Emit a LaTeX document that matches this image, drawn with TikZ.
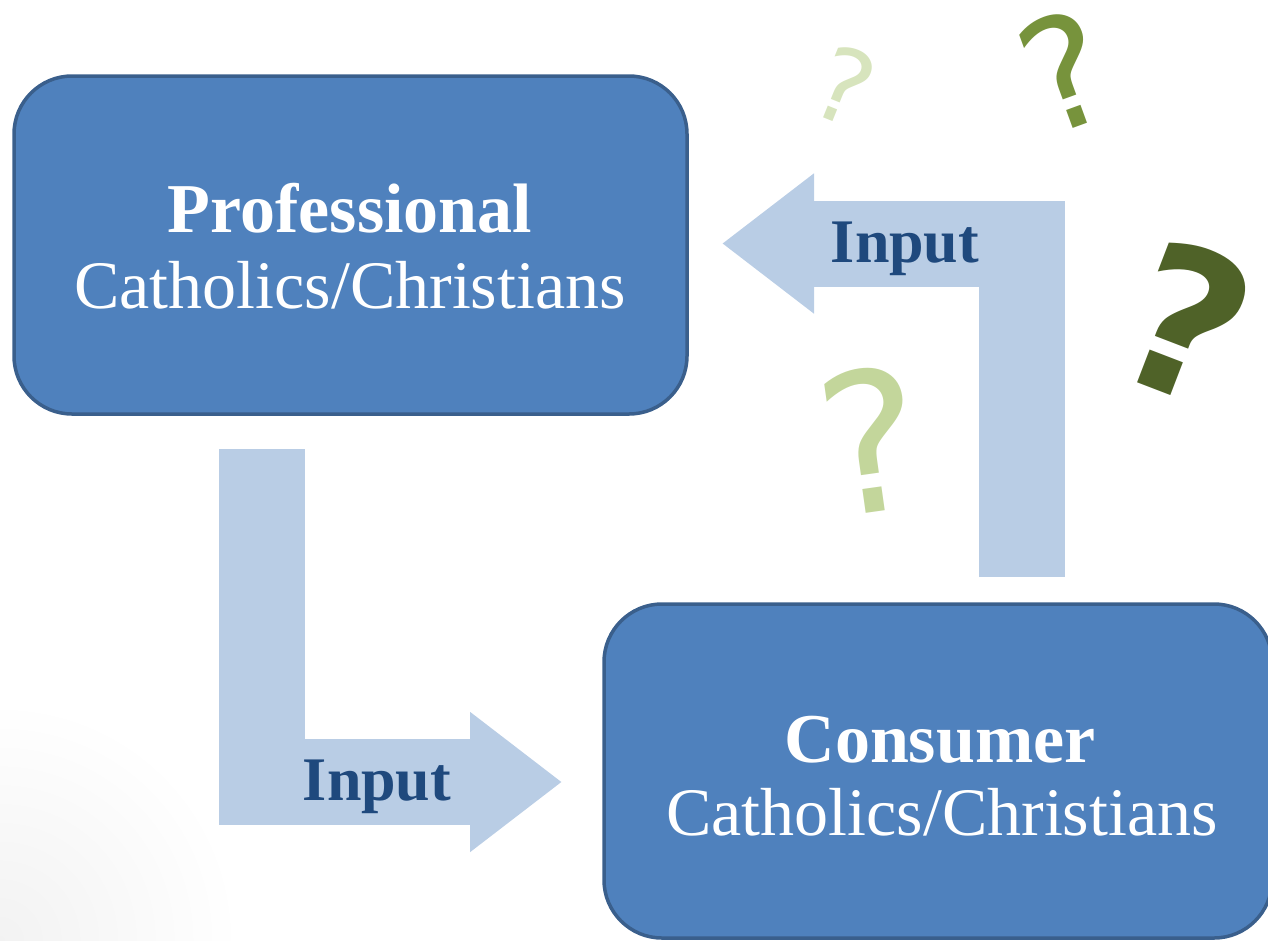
\documentclass[tikz,border=0pt]{standalone}
\usepackage{fontspec}
\setmainfont{Liberation Serif}
\newfontfamily\qfont{DejaVu Sans}
\usetikzlibrary{arrows.meta}
\definecolor{boxfill}{HTML}{4F81BD}
\definecolor{boxline}{HTML}{3A5F8C}
\definecolor{arrowfill}{HTML}{B9CDE5}
\definecolor{inputtext}{HTML}{1F497D}
\definecolor{qa}{HTML}{D7E4BD}
\definecolor{qb}{HTML}{77933C}
\definecolor{qc}{HTML}{4F6228}
\definecolor{qd}{HTML}{C3D69B}
\tikzset{
  roundbox/.style={draw=boxline, line width=3.5pt, fill=boxfill, rounded corners=58pt, inner sep=0pt},
  headtext/.style={text=white, inner sep=0pt, anchor=base, font=\fontsize{70}{76}\selectfont\bfseries},
  subtext/.style={text=white, inner sep=0pt, anchor=base, font=\fontsize{68}{76}\selectfont},
  bigarrow/.style={draw=arrowfill, line width=86pt, -{Triangle[length=92pt,width=134pt]}},
  inputlabel/.style={text=inputtext, inner sep=0pt, anchor=base, font=\fontsize{62}{70}\selectfont\bfseries},
  qmark/.style={inner sep=0pt, anchor=center}
}
\begin{document}
\begin{tikzpicture}[x=1pt,y=-1pt]
\useasboundingbox (0,0) rectangle (1268,940);
% faint corner shading
\begin{scope}
\clip (0,0) rectangle (1268,940);
\shade[inner color=black!5, outer color=white] (0,940) circle (240pt);
\end{scope}
% boxes
\node[roundbox, minimum width=673pt, minimum height=338pt] (pro) at (350.5,245) {};
\node[roundbox, minimum width=668pt, minimum height=334pt] (con) at (938,771) {};
% box texts
\node[headtext] (proh) at (350,232) {Professional};
\node[subtext] (pros) at (350,308) {Catholics/Christians};
\node[headtext] (conh) at (940,762) {Consumer};
\node[subtext] (cons) at (942,835) {Catholics/Christians};
% arrows
\coordinate (a1s) at (262,449);
\coordinate (a1e) at (562,782);
\coordinate (a2s) at (1021.5,577);
\coordinate (a2e) at (722,243.5);
\draw[bigarrow] (a1s) |- (a1e);
\draw[bigarrow] (a2s) |- (a2e);
\node[inputlabel] (in1) at (377,800) {Input};
\node[inputlabel] (in2) at (905,262) {Input};
% question marks
\node[qmark, text=qa, rotate=-22, font=\fontsize{102}{102}\qfont] (q1) at (845,86) {?};
\node[qmark, text=qb, rotate=20, font=\fontsize{154}{154}\qfont] (q2) at (1064,71) {?};
\node[qmark, text=qc, rotate=-21, font=\fontsize{202}{202}\qfont\bfseries] (q3) at (1187,322) {?};
\node[qmark, text=qd, rotate=8, font=\fontsize{194}{194}\qfont] (q4) at (870,440) {?};
\end{tikzpicture}
\end{document}
